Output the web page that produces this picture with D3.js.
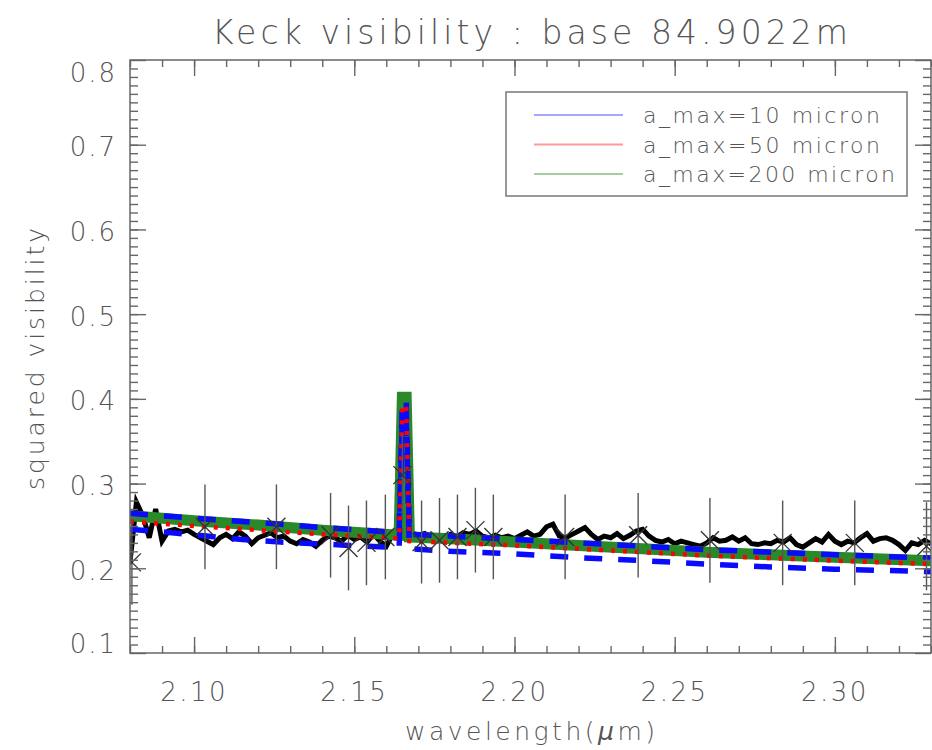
<!DOCTYPE html>
<html>
<head>
<meta charset="utf-8">
<script src="https://cdn.jsdelivr.net/npm/d3@7"></script>
<style>
  body { margin: 0; background: #fff; }
  text { font-family: "DejaVu Sans", "Liberation Sans", sans-serif; font-weight: 200; fill: #555; }
</style>
</head>
<body>
<svg id="chart" width="932" height="750"></svg>
<script>
// ---- data -------------------------------------------------------------
const chartTitle = "Keck visibility : base 84.9022m";
const xTickValues = [2.10, 2.15, 2.20, 2.25, 2.30];
const xTickLabels = ["2.10", "2.15", "2.20", "2.25", "2.30"];
const yTickValues = [0.1, 0.2, 0.3, 0.4, 0.5, 0.6, 0.7, 0.8];
const yTickLabels = ["0.1", "0.2", "0.3", "0.4", "0.5", "0.6", "0.7", "0.8"];

// observed spectrally dispersed squared visibility
const obsWave = [2.080, 2.082, 2.084, 2.086, 2.088, 2.090, 2.092, 2.094, 2.096, 2.098,
  2.100, 2.102, 2.104, 2.106, 2.108, 2.110, 2.112, 2.114, 2.116, 2.118,
  2.120, 2.122, 2.124, 2.126, 2.128, 2.130, 2.132, 2.134, 2.136, 2.138,
  2.140, 2.142, 2.144, 2.146, 2.148, 2.150, 2.152, 2.154, 2.156, 2.158,
  2.160, 2.162, 2.164, 2.1655, 2.1668, 2.170, 2.172, 2.174, 2.176, 2.178,
  2.180, 2.182, 2.184, 2.186, 2.188, 2.190, 2.192, 2.194, 2.196, 2.198,
  2.200, 2.202, 2.204, 2.206, 2.208, 2.210, 2.212, 2.214, 2.216, 2.218,
  2.220, 2.222, 2.224, 2.226, 2.228, 2.230, 2.232, 2.234, 2.236, 2.238,
  2.240, 2.242, 2.244, 2.246, 2.248, 2.250, 2.252, 2.254, 2.256, 2.258,
  2.260, 2.262, 2.264, 2.266, 2.268, 2.270, 2.272, 2.274, 2.276, 2.278,
  2.280, 2.282, 2.284, 2.286, 2.288, 2.290, 2.292, 2.294, 2.296, 2.298,
  2.300, 2.302, 2.304, 2.306, 2.308, 2.310, 2.312, 2.314, 2.316, 2.318,
  2.320, 2.322, 2.324, 2.326, 2.328, 2.330];
const obsV2 = [0.207, 0.278, 0.262, 0.236, 0.270, 0.232, 0.244, 0.246, 0.243, 0.245,
  0.240, 0.236, 0.232, 0.228, 0.236, 0.240, 0.235, 0.243, 0.238, 0.229,
  0.236, 0.239, 0.242, 0.236, 0.238, 0.232, 0.229, 0.234, 0.231, 0.226,
  0.233, 0.238, 0.236, 0.232, 0.239, 0.234, 0.237, 0.231, 0.240, 0.232,
  0.226, 0.240, 0.242, 0.300, 0.243, 0.239, 0.241, 0.236, 0.238, 0.235,
  0.240, 0.237, 0.242, 0.240, 0.244, 0.238, 0.236, 0.239, 0.236, 0.238,
  0.235, 0.239, 0.243, 0.238, 0.240, 0.249, 0.252, 0.238, 0.236, 0.240,
  0.244, 0.248, 0.240, 0.234, 0.238, 0.236, 0.241, 0.235, 0.239, 0.244,
  0.246, 0.238, 0.233, 0.231, 0.234, 0.229, 0.232, 0.230, 0.228, 0.226,
  0.230, 0.236, 0.232, 0.233, 0.237, 0.232, 0.236, 0.229, 0.228, 0.230,
  0.229, 0.233, 0.231, 0.236, 0.228, 0.225, 0.230, 0.235, 0.231, 0.240,
  0.232, 0.228, 0.232, 0.230, 0.236, 0.241, 0.232, 0.235, 0.236, 0.233,
  0.228, 0.221, 0.230, 0.228, 0.233, 0.229];

// binned measurements with error bars
const binWave = [2.0806, 2.1034, 2.1257, 2.1426, 2.1482, 2.1538, 2.1597, 2.1650, 2.1710, 2.1766,
  2.1822, 2.1878, 2.1934, 2.2158, 2.2386, 2.2610, 2.2837, 2.3062, 2.3286];
const binV2 = [0.207, 0.249, 0.249, 0.239, 0.224, 0.230, 0.237, 0.310, 0.231, 0.233,
  0.237, 0.245, 0.237, 0.237, 0.239, 0.233, 0.230, 0.230, 0.226];
const binErr = [0.050, 0.050, 0.050, 0.050, 0.050, 0.050, 0.050, 0.050, 0.049, 0.050,
  0.050, 0.050, 0.050, 0.050, 0.050, 0.050, 0.050, 0.050, 0.052];

// disk models for three maximum grain sizes (with Br-gamma line)
const modelWave = [2.080, 2.100, 2.120, 2.140, 2.1640, 2.1650, 2.1662, 2.1672, 2.180, 2.200,
  2.220, 2.240, 2.260, 2.280, 2.300, 2.330];
const model200 = [0.262, 0.256, 0.251, 0.245, 0.239, 0.402, 0.402, 0.237, 0.235, 0.231,
  0.227, 0.223, 0.219, 0.216, 0.213, 0.209];
const model50 = [0.255, 0.250, 0.245, 0.240, 0.235, 0.392, 0.392, 0.232, 0.230, 0.227,
  0.223, 0.219, 0.215, 0.212, 0.209, 0.205];
const model10 = [0.265, 0.259, 0.254, 0.248, 0.242, 0.398, 0.398, 0.240, 0.238, 0.234,
  0.230, 0.226, 0.222, 0.219, 0.216, 0.212];
const model10bWave = [2.080, 2.093, 2.104, 2.115, 2.127, 2.138, 2.1485, 2.160, 2.1640, 2.1650,
  2.1662, 2.1672, 2.180, 2.200, 2.220, 2.240, 2.260, 2.280, 2.300, 2.320, 2.330];
const model10b = [0.246, 0.242, 0.238, 0.234, 0.231, 0.229, 0.227, 0.225, 0.224, 0.380,
  0.380, 0.223, 0.220, 0.217, 0.2125, 0.209, 0.205, 0.2015, 0.199, 0.197, 0.196];

const legendLabels = ["a_max=10 micron", "a_max=50 micron", "a_max=200 micron"];
const legendColors = ["#a6a6ff", "#ff9a9a", "#a3cfa3"];

// ---- layout -----------------------------------------------------------
const svg = d3.select("#chart");
const L = 130, R = 931, T = 60, B = 653;
const x = d3.scaleLinear().domain([2.08, 2.33]).range([L, R]);
const y = d3.scaleLinear().domain([0.1, 0.8]).range([B, T]);
const axisColor = "#666";

// ---- data curves ------------------------------------------------------
svg.append("clipPath").attr("id", "plotclip")
  .append("rect").attr("x", L).attr("y", T).attr("width", R - L).attr("height", B - T);
const plot = svg.append("g").attr("clip-path", "url(#plotclip)");

const line = d3.line().x(d => x(d[0])).y(d => y(d[1]));
const zip = (a, b) => a.map((v, i) => [v, b[i]]);

plot.append("path").datum(zip(obsWave, obsV2)).attr("d", line)
  .attr("fill", "none").attr("stroke", "#000").attr("stroke-width", 5)
  .attr("stroke-linejoin", "miter");

plot.append("path").datum(zip(modelWave, model200)).attr("d", line)
  .attr("fill", "none").attr("stroke", "#2a8a2a").attr("stroke-width", 11);

plot.append("path").datum(zip(modelWave, model10)).attr("d", line)
  .attr("fill", "none").attr("stroke", "#0a0aff").attr("stroke-width", 5.5)
  .attr("stroke-dasharray", "18,16");
plot.append("path").datum(zip(model10bWave, model10b)).attr("d", line)
  .attr("fill", "none").attr("stroke", "#0a0aff").attr("stroke-width", 5.5)
  .attr("stroke-dasharray", "18,16");

plot.append("path").datum(zip(modelWave, model50)).attr("d", line)
  .attr("fill", "none").attr("stroke", "#ff0000").attr("stroke-width", 4.5)
  .attr("stroke-dasharray", "4,8");

// error bars and crosses
const bins = binWave.map((w, i) => ({ w, v: binV2[i], e: binErr[i] }));
plot.selectAll("line.err").data(bins).enter().append("line").attr("class", "err")
  .attr("x1", d => x(d.w)).attr("x2", d => x(d.w))
  .attr("y1", d => y(d.v + d.e)).attr("y2", d => y(d.v - d.e))
  .attr("stroke", "#555").attr("stroke-width", 1.4);
const cs = 9;
const crosses = plot.selectAll("g.cross").data(bins).enter().append("g").attr("class", "cross")
  .attr("transform", d => `translate(${x(d.w)},${y(d.v)})`);
crosses.append("line").attr("x1", -cs).attr("y1", -cs).attr("x2", cs).attr("y2", cs)
  .attr("stroke", "#333").attr("stroke-width", 1.3);
crosses.append("line").attr("x1", -cs).attr("y1", cs).attr("x2", cs).attr("y2", -cs)
  .attr("stroke", "#333").attr("stroke-width", 1.3);

// ---- axes (inward ticks on all four sides) ----------------------------
const yMinor = d3.range(11, 80).map(k => k / 100);
const xMinor = d3.range(208, 334).map(k => k / 100).filter(v => v <= 2.33);
function styleAxis(g) {
  g.select(".domain").remove();
  g.selectAll(".tick line").attr("stroke", axisColor).attr("stroke-width", 1.4);
}
svg.append("g").attr("transform", `translate(${L},0)`)
  .call(d3.axisLeft(y).tickValues(yMinor).tickSize(-8).tickFormat("")).call(styleAxis);
svg.append("g").attr("transform", `translate(${L},0)`)
  .call(d3.axisLeft(y).tickValues(yTickValues).tickSize(-16).tickFormat("")).call(styleAxis);
svg.append("g").attr("transform", `translate(${R},0)`)
  .call(d3.axisRight(y).tickValues(yMinor).tickSize(-8).tickFormat("")).call(styleAxis);
svg.append("g").attr("transform", `translate(${R},0)`)
  .call(d3.axisRight(y).tickValues(yTickValues).tickSize(-16).tickFormat("")).call(styleAxis);
svg.append("g").attr("transform", `translate(0,${B})`)
  .call(d3.axisBottom(x).tickValues(xMinor).tickSize(-7).tickFormat("")).call(styleAxis);
svg.append("g").attr("transform", `translate(0,${B})`)
  .call(d3.axisBottom(x).tickValues(xTickValues).tickSize(-16).tickFormat("")).call(styleAxis);
svg.append("g").attr("transform", `translate(0,${T})`)
  .call(d3.axisTop(x).tickValues(xMinor).tickSize(-7).tickFormat("")).call(styleAxis);
svg.append("g").attr("transform", `translate(0,${T})`)
  .call(d3.axisTop(x).tickValues(xTickValues).tickSize(-16).tickFormat("")).call(styleAxis);

svg.append("rect").attr("x", L).attr("y", T).attr("width", R - L).attr("height", B - T)
  .attr("fill", "none").attr("stroke", axisColor).attr("stroke-width", 1.5);

// tick labels
svg.selectAll("text.ylab").data(yTickValues).enter().append("text").attr("class", "ylab")
  .attr("x", 117).attr("y", v => Math.max(72, Math.min(643, y(v) + 2)) + 9.5)
  .attr("text-anchor", "end").attr("font-size", 26).attr("letter-spacing", 2)
  .text((v, i) => yTickLabels[i]);
svg.selectAll("text.xlab").data(xTickValues).enter().append("text").attr("class", "xlab")
  .attr("x", v => x(v)).attr("y", 701)
  .attr("text-anchor", "middle").attr("font-size", 26).attr("letter-spacing", 2.5)
  .text((v, i) => xTickLabels[i]);

// titles
svg.append("text").attr("x", 212).attr("y", 44).attr("font-size", 33)
  .attr("textLength", 636).attr("lengthAdjust", "spacing").text(chartTitle);
const xt = svg.append("text").attr("x", 405).attr("y", 740)
  .attr("font-size", 25).attr("textLength", 250).attr("lengthAdjust", "spacing");
xt.append("tspan").text("wavelength(");
xt.append("tspan").attr("font-style", "italic").text("\u03bc");
xt.append("tspan").text("m)");
svg.append("text").attr("transform", "translate(44,490) rotate(-90)")
  .attr("font-size", 25).attr("textLength", 262).attr("lengthAdjust", "spacing")
  .text("squared visibility");

// ---- legend -----------------------------------------------------------
const lg = svg.append("g");
lg.append("rect").attr("x", 506).attr("y", 92).attr("width", 401).attr("height", 104)
  .attr("fill", "#fff").attr("stroke", "#777").attr("stroke-width", 1.5);
const legendWidths = [237, 237, 252];
legendLabels.forEach((lab, i) => {
  const ly = 115 + i * 29.5;
  lg.append("line").attr("x1", 534).attr("x2", 623).attr("y1", ly).attr("y2", ly)
    .attr("stroke", legendColors[i]).attr("stroke-width", 2);
  lg.append("text").attr("x", 643).attr("y", ly + 8).attr("font-size", 22)
    .attr("textLength", legendWidths[i]).attr("lengthAdjust", "spacing").text(lab);
});
</script>
</body>
</html>
